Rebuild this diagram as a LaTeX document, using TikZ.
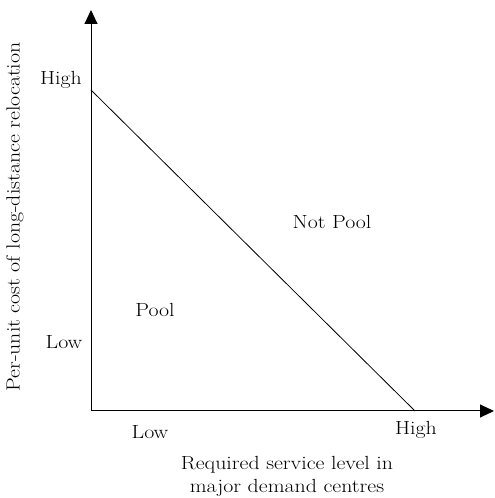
\documentclass[tikz,border=0pt]{standalone}
\usepackage{fontspec}
\setmainfont{Latin Modern Roman}[FakeStretch=1.15]
\usepackage{tikz}
\usetikzlibrary{arrows.meta}

\begin{document}
\begin{tikzpicture}[x=1pt,y=1pt,font=\fontsize{19}{23}\selectfont,
    axis/.style={line width=1pt,-{Triangle[length=14pt,width=13pt]}}]
      \useasboundingbox (0,0) rectangle (495,498);
      \coordinate (origin) at (91,87);
      \coordinate (ytop) at (91,488);
      \coordinate (xend) at (494,87);
      \coordinate (costhigh) at (91,408);
      \coordinate (servhigh) at (415,87);
      \draw[axis] (origin) -- (ytop);
      \draw[axis] (origin) -- (xend);
      \draw[line width=0.8pt] (costhigh) -- (servhigh);
      \node (yhigh) at (61,418) {High};
      \node (ylow) at (64,156) {Low};
      \node (xlow) at (150,66) {Low};
      \node (xhigh) at (416,68) {High};
      \node (pool) at (155,188) {Pool};
      \node (notpool) at (332,276) {Not Pool};
      \node[rotate=90] (ylabel) at (15,281) {Per-unit cost of long-distance relocation};
      \node[align=center] (xlabel) at (287,22) {Required service level in\\major demand centres};
\end{tikzpicture}
\end{document}
